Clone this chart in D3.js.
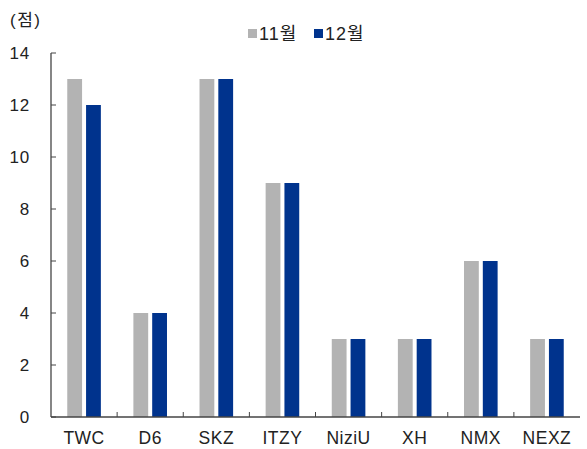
<!DOCTYPE html>
<html><head><meta charset="utf-8">
<script src="https://cdn.jsdelivr.net/npm/d3@7"></script>
<style>body{margin:0;background:#fff}svg{display:block}text{font-family:"Liberation Sans","Noto Sans CJK KR",sans-serif;fill:#222}</style>
</head><body>
<script>
const categories = ["TWC","D6","SKZ","ITZY","NiziU","XH","NMX","NEXZ"];
const nov = [13,4,13,9,3,3,6,3];
const dec = [12,4,13,9,3,3,6,3];
const seriesNames = ["11월","12월"];
const colors = ["#b3b3b3","#00338d"];
const yTicks = [0,2,4,6,8,10,12,14];

const W=587,H=449;
const m={left:51,right:7,top:53,bottom:32};
const svg=d3.select("body").append("svg").attr("width",W).attr("height",H);
const x=d3.scaleBand().domain(categories).range([m.left,W-m.right]);
const y=d3.scaleLinear().domain([0,14]).range([H-m.bottom,m.top]);

const bw=14.8, gap=4;
const series=[nov,dec];
series.forEach((vals,si)=>{
  svg.append("g").selectAll("rect").data(categories).join("rect")
    .attr("x",d=>x(d)+x.bandwidth()/2-bw-gap/2+si*(bw+gap))
    .attr("width",bw)
    .attr("y",(d,i)=>y(vals[i]))
    .attr("height",(d,i)=>y(0)-y(vals[i]))
    .attr("fill",colors[si]);
});

// axes
const axc="#444";
svg.append("line").attr("x1",m.left).attr("x2",m.left).attr("y1",y(14)).attr("y2",y(0)).attr("stroke",axc).attr("stroke-width",1.3);
svg.append("line").attr("x1",m.left).attr("x2",W-m.right).attr("y1",y(0)).attr("y2",y(0)).attr("stroke",axc).attr("stroke-width",1.3);
svg.append("g").selectAll("line").data(yTicks).join("line")
  .attr("x1",m.left).attr("x2",m.left+5).attr("y1",d=>y(d)).attr("y2",d=>y(d)).attr("stroke",axc);
svg.append("g").selectAll("text").data(yTicks).join("text")
  .attr("x",30).attr("y",d=>y(d)+6).attr("text-anchor","end").attr("font-size",17).attr("letter-spacing",0.8).text(d=>d);
svg.append("g").selectAll("line").data(categories.slice(1)).join("line")
  .attr("x1",d=>x(d)).attr("x2",d=>x(d)).attr("y1",y(0)).attr("y2",y(0)-5).attr("stroke",axc);
svg.append("g").selectAll("text").data(categories).join("text")
  .attr("x",d=>x(d)+x.bandwidth()/2).attr("y",444).attr("text-anchor","middle").attr("font-size",17.5).attr("letter-spacing",0.5).text(d=>d);

svg.append("text").attr("x",10).attr("y",26).attr("font-size",17).attr("letter-spacing",1.5).text("(점)");

// legend
const lg=[{x:248,t:seriesNames[0],c:colors[0]},{x:314,t:seriesNames[1],c:colors[1]}];
lg.forEach(l=>{
  svg.append("rect").attr("x",l.x).attr("y",29).attr("width",9).attr("height",9).attr("fill",l.c);
  svg.append("text").attr("x",l.x+11).attr("y",40).attr("font-size",18).attr("letter-spacing",1).text(l.t);
});
</script>
</body></html>
